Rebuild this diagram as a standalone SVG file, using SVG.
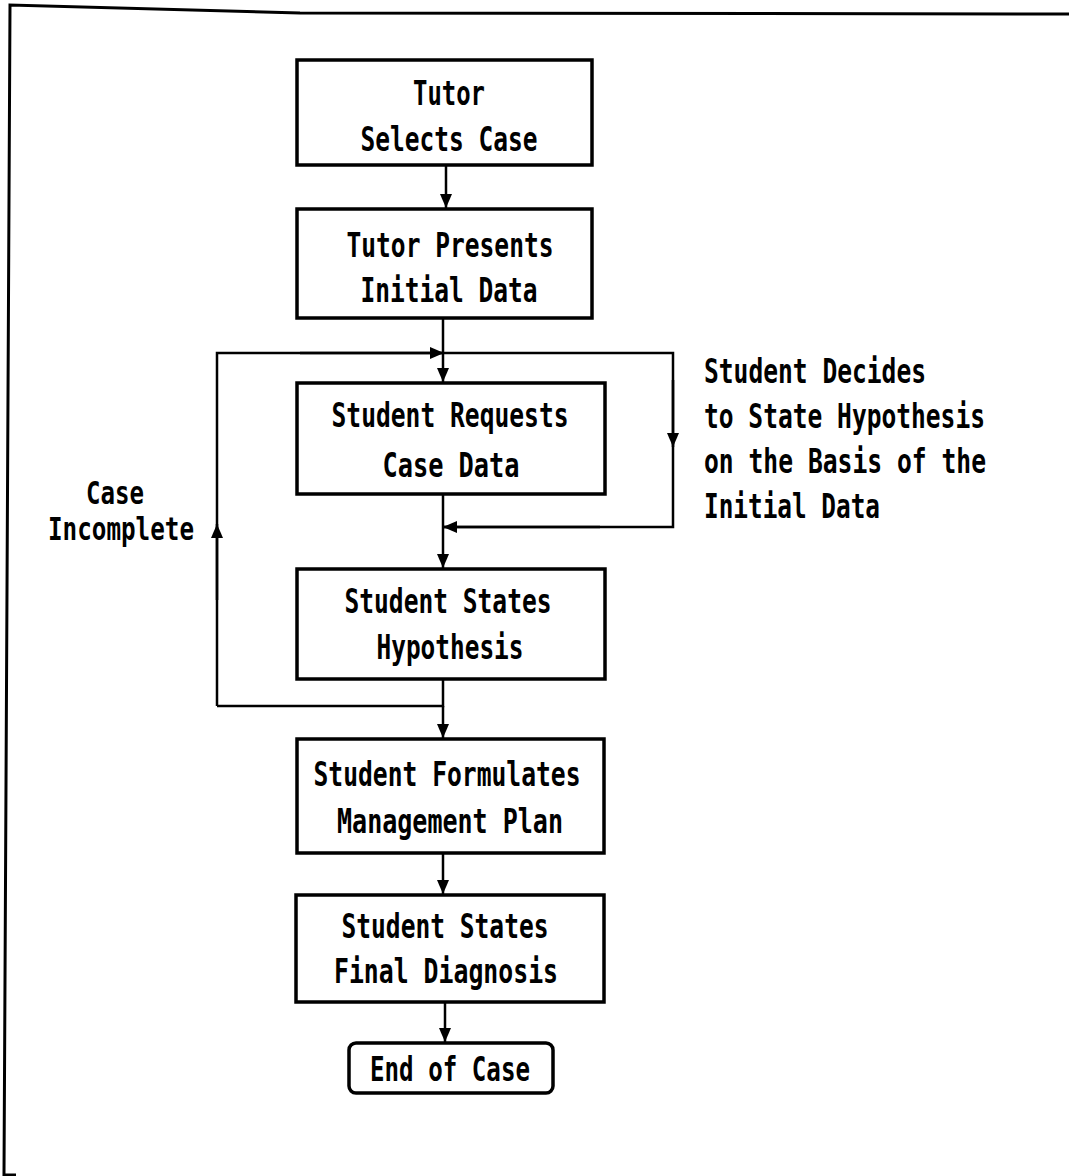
<svg xmlns="http://www.w3.org/2000/svg" width="1069" height="1176" viewBox="0 0 1069 1176">
<defs>
<style>
.box{fill:#fff;stroke:#000;stroke-width:3.5}
.ln{fill:none;stroke:#000;stroke-width:2.5}
.fr{fill:none;stroke:#000;stroke-width:3}
text{font-family:"DejaVu Sans Mono","Liberation Mono",monospace;font-weight:bold;font-size:24.5px;fill:#000}
.c{text-anchor:middle}
</style>
<marker id="ah" viewBox="0 0 14 12" refX="14" refY="6" markerWidth="14" markerHeight="12" markerUnits="userSpaceOnUse" orient="auto">
<path d="M0,0 L14,6 L0,12 z" fill="#000"/>
</marker>
</defs>
<rect width="1069" height="1176" fill="#fff"/>
<path class="fr" d="M1069,14 L300,13 L10,5 L4,1175 L16,1175"/>
<g id="connectors">
<line class="ln" x1="446" y1="165" x2="446" y2="208" marker-end="url(#ah)"/>
<line class="ln" x1="443" y1="318" x2="443" y2="382" marker-end="url(#ah)"/>
<path class="ln" d="M217,706 L217,353 L673,353 L673,527 L443,527"/>
<line class="ln" x1="217" y1="600" x2="217" y2="524" marker-end="url(#ah)"/>
<line class="ln" x1="300" y1="353" x2="444" y2="353" marker-end="url(#ah)"/>
<line class="ln" x1="673" y1="380" x2="673" y2="447" marker-end="url(#ah)"/>
<line class="ln" x1="600" y1="527" x2="443" y2="527" marker-end="url(#ah)"/>
<line class="ln" x1="443" y1="494" x2="443" y2="568" marker-end="url(#ah)"/>
<path class="ln" d="M443,679 L443,706 L217,706"/>
<line class="ln" x1="443" y1="706" x2="443" y2="738" marker-end="url(#ah)"/>
<line class="ln" x1="443" y1="853" x2="443" y2="894" marker-end="url(#ah)"/>
<line class="ln" x1="445" y1="1002" x2="445" y2="1042" marker-end="url(#ah)"/>
</g>
<g id="n1">
<rect class="box" x="297" y="60" width="295" height="105"/>
<text class="c" transform="translate(449,105) scale(1,1.4)" textLength="72" lengthAdjust="spacingAndGlyphs">Tutor</text>
<text class="c" transform="translate(449,151) scale(1,1.4)" textLength="177" lengthAdjust="spacingAndGlyphs">Selects Case</text>
</g>
<g id="n2">
<rect class="box" x="297" y="209" width="295" height="109"/>
<text class="c" transform="translate(450,257) scale(1,1.4)" textLength="207" lengthAdjust="spacingAndGlyphs">Tutor Presents</text>
<text class="c" transform="translate(449,302) scale(1,1.4)" textLength="177" lengthAdjust="spacingAndGlyphs">Initial Data</text>
</g>
<g id="n3">
<rect class="box" x="297" y="383" width="308" height="111"/>
<text class="c" transform="translate(450,427) scale(1,1.4)" textLength="237" lengthAdjust="spacingAndGlyphs">Student Requests</text>
<text class="c" transform="translate(451,477) scale(1,1.4)" textLength="137" lengthAdjust="spacingAndGlyphs">Case Data</text>
</g>
<g id="n4">
<rect class="box" x="297" y="569" width="308" height="110"/>
<text class="c" transform="translate(448,613) scale(1,1.4)" textLength="207" lengthAdjust="spacingAndGlyphs">Student States</text>
<text class="c" transform="translate(450,659) scale(1,1.4)" textLength="147" lengthAdjust="spacingAndGlyphs">Hypothesis</text>
</g>
<g id="n5">
<rect class="box" x="297" y="739" width="307" height="114"/>
<text class="c" transform="translate(447,786) scale(1,1.4)" textLength="267" lengthAdjust="spacingAndGlyphs">Student Formulates</text>
<text class="c" transform="translate(450,833) scale(1,1.4)" textLength="226" lengthAdjust="spacingAndGlyphs">Management Plan</text>
</g>
<g id="n6">
<rect class="box" x="296" y="895" width="308" height="107"/>
<text class="c" transform="translate(445,938) scale(1,1.4)" textLength="207" lengthAdjust="spacingAndGlyphs">Student States</text>
<text class="c" transform="translate(446,983) scale(1,1.4)" textLength="224" lengthAdjust="spacingAndGlyphs">Final Diagnosis</text>
</g>
<g id="n7">
<rect class="box" x="349" y="1043" width="204" height="50" rx="7"/>
<text class="c" transform="translate(450,1081) scale(1,1.4)" textLength="160" lengthAdjust="spacingAndGlyphs">End of Case</text>
</g>
<g id="labels">
<text transform="translate(86,504) scale(1,1.3)" textLength="58" lengthAdjust="spacingAndGlyphs">Case</text>
<text transform="translate(48,540) scale(1,1.3)" textLength="146" lengthAdjust="spacingAndGlyphs">Incomplete</text>
<text transform="translate(704,383) scale(1,1.4)" textLength="222" lengthAdjust="spacingAndGlyphs">Student Decides</text>
<text transform="translate(704,428) scale(1,1.4)" textLength="281" lengthAdjust="spacingAndGlyphs">to State Hypothesis</text>
<text transform="translate(704,473) scale(1,1.4)" textLength="282" lengthAdjust="spacingAndGlyphs">on the Basis of the</text>
<text transform="translate(704,518) scale(1,1.4)" textLength="176" lengthAdjust="spacingAndGlyphs">Initial Data</text>
</g>
</svg>
